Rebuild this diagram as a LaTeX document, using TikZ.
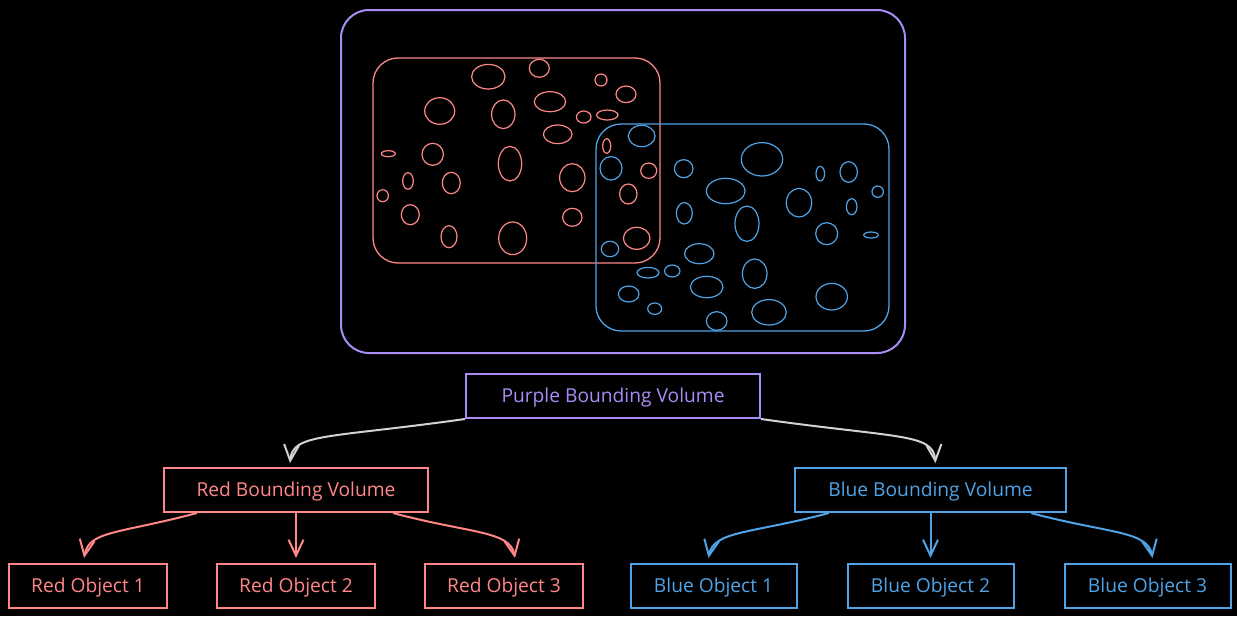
\documentclass[tikz,border=0pt]{standalone}
\usepackage{fontspec}
\setmainfont{Open Sans}
\usetikzlibrary{arrows.meta,positioning}
\definecolor{Violet}{HTML}{A98CF6}
\definecolor{Coral}{HTML}{FF8787}
\definecolor{Sky}{HTML}{4FA3E6}
\definecolor{Ash}{HTML}{D2D2D2}

\begin{document}
\begin{tikzpicture}[x=1pt,y=-1pt,
    node distance=50pt and 48pt,
    treebox/.style={draw,line width=2pt,minimum height=44pt,inner sep=0pt,
      text depth=1pt,font=\fontsize{19.2}{22}\selectfont},
    rootbox/.style={treebox,draw=Violet,text=Violet,minimum width=294pt},
    redbox/.style={treebox,draw=Coral,text=Coral},
    bluebox/.style={treebox,draw=Sky,text=Sky},
    volume/.style={rounded corners=25pt,line width=1.3pt},
    blob/.style={line width=1.2pt},
    arrow/.style={-{Straight Barb[length=16pt,width=15pt]},line width=2pt},
    greyarrow/.style={arrow,draw=Ash},
    redarrow/.style={arrow,draw=Coral},
    bluearrow/.style={arrow,draw=Sky}
]
\useasboundingbox (0,0) rectangle (1237,616);
\fill[black] (0,0) rectangle (1237,616);

% scene: bounding volumes
\draw[Violet,line width=2pt,rounded corners=28pt] (341,10) rectangle (905,353);
\draw[Coral,volume] (373,58) rectangle (660,263);
\draw[Sky,volume] (596,124) rectangle (889,331);

\foreach \cx/\cy/\rx/\ry in {488.3/76.7/16.7/12.3, 539.3/68.3/10/9, 601/80/6/6,
    626/94.3/10/8.3, 439.7/111/15/13.3, 503.3/114.3/11.7/14.3, 550/101.7/15.7/10,
    583.7/117/7.3/6, 607.3/115/10.7/5, 557.7/134.3/14.3/9.3, 388.3/153.7/7/3,
    432.7/154.3/10.7/11, 510/163.7/11.7/17.3, 572.3/177.7/12.7/14, 408/181/5.3/8.3,
    451.3/183/9/10.7, 382.7/195.7/5.7/6, 606.7/146/4/7.3, 648.7/170.7/8/7.7,
    628.3/194/8.7/10, 410.3/214.7/9/10, 449/236.7/8/11, 512.7/238.3/14/16.3,
    572.3/217.3/9.7/9, 636.7/238.3/13.3/11}
  \draw[Coral,blob] (\cx,\cy) ellipse [x radius=\rx pt,y radius=\ry pt];

\foreach \cx/\cy/\rx/\ry in {641.7/136/13.3/10.7, 611/168.3/11/11.7, 683.7/168.7/9.3/9,
    762/159.3/20.7/16.7, 820.3/173.7/4.3/7.3, 848.7/172/8.7/10.3, 877.7/191.7/5.7/5.7,
    725.7/191/19.3/12.7, 799/202.7/12.7/14.3, 851.7/206.7/5.3/8, 684.3/213.3/8/10.7,
    747/223.7/12/17.7, 826.7/233.7/11/11, 871/235/7.3/3, 610/249/8.7/7.7,
    699.3/253.7/14.7/10, 648/272.7/11/5.3, 672.3/271/7.7/6, 754.7/273.7/12.3/14.7,
    706.7/287/16.3/10.7, 628.7/294/10.3/8, 831.7/296.7/15.7/13.3, 654.7/308.7/7/5.7,
    769/312.3/17.3/12.7, 716.7/321/10.3/9.3}
  \draw[Sky,blob] (\cx,\cy) ellipse [x radius=\rx pt,y radius=\ry pt];

% tree
\node[rootbox] (purplebv) at (613,396) {Purple Bounding Volume};
\node[redbox,minimum width=264pt] (redbv) at (296,490) {Red Bounding Volume};
\node[bluebox,minimum width=271pt] (bluebv) at (930.5,490) {Blue Bounding Volume};

\node[redbox,minimum width=158pt,below=of redbv] (redobj2) {Red Object 2};
\node[redbox,minimum width=158pt,left=of redobj2] (redobj1) {Red Object 1};
\node[redbox,minimum width=158pt,right=of redobj2] (redobj3) {Red Object 3};
\node[bluebox,minimum width=166pt,below=of bluebv] (blueobj2) {Blue Object 2};
\node[bluebox,minimum width=166pt,left=49pt of blueobj2] (blueobj1) {Blue Object 1};
\node[bluebox,minimum width=166pt,right=49pt of blueobj2] (blueobj3) {Blue Object 3};

% y points down here, so angles turn clockwise
\draw[greyarrow] (purplebv.south west) .. controls +(172:140) and +(-85:30) .. ([xshift=-6pt,yshift=4pt]redbv.north);
\draw[greyarrow] (purplebv.south east) .. controls +(8:140) and +(-95:30) .. ([xshift=5pt,yshift=4pt]bluebv.north);

\draw[redarrow] ([xshift=34pt]redbv.south west) .. controls +(165:80) and +(-80:28) .. ([xshift=-4pt,yshift=5pt]redobj1.north);
\draw[redarrow] (redbv.south) -- ([yshift=5pt]redbv.south |- redobj2.north);
\draw[redarrow] ([xshift=-36pt]redbv.south east) .. controls +(15:80) and +(-100:28) .. ([xshift=11pt,yshift=5pt]redobj3.north);

\draw[bluearrow] ([xshift=35pt]bluebv.south west) .. controls +(165:80) and +(-80:28) .. ([xshift=-5pt,yshift=5pt]blueobj1.north);
\draw[bluearrow] (bluebv.south) -- ([yshift=5pt]bluebv.south |- blueobj2.north);
\draw[bluearrow] ([xshift=-36pt]bluebv.south east) .. controls +(15:80) and +(-100:28) .. ([xshift=5pt,yshift=5pt]blueobj3.north);
\end{tikzpicture}
\end{document}
